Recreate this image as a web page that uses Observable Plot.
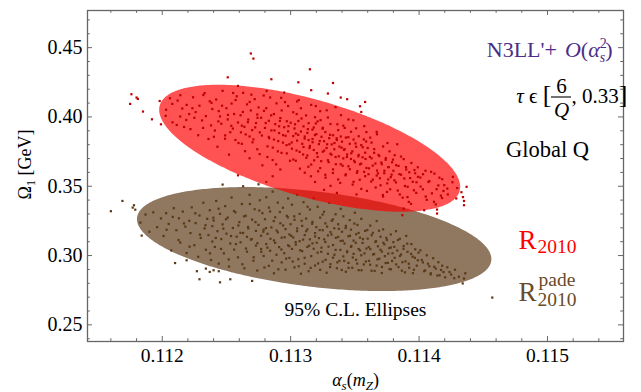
<!DOCTYPE html>
<html><head><meta charset="utf-8">
<script src="https://cdn.jsdelivr.net/npm/d3@7"></script>
<script src="https://cdn.jsdelivr.net/npm/@observablehq/plot@0.6"></script>
<style>body{margin:0;background:#fff}svg{display:block}</style>
</head><body><div id="chart"></div><script>
// ---- tick values ----
const xMajorTicks = [0.112, 0.113, 0.114, 0.115];
const xMinorTicks = [0.1116,0.1118,0.1122,0.1124,0.1126,0.1128,0.1132,0.1134,0.1136,0.1138,0.1142,0.1144,0.1146,0.1148,0.1152,0.1154];
const yMajorTicks = [0.25, 0.30, 0.35, 0.40, 0.45];
const yMinorTicks = [0.24,0.26,0.27,0.28,0.29,0.31,0.32,0.33,0.34,0.36,0.37,0.38,0.39,0.41,0.42,0.43,0.44,0.46,0.47];

// ---- 95% C.L. ellipses (brown = R2010 pade, red = R2010) ----
const ellipseNames = ["R2010 pade", "R2010"];
const ellipseAlpha = [0.113187, 0.113152];
const ellipseOmega = [0.31154, 0.37706];
const ellipseSemiAlpha = [0.00138, 0.001172];
const ellipseSemiOmega = [0.03752, 0.0458];
const ellipseCorr = [-0.3846, -0.607];

// ---- scatter points (alpha_s, Omega_1) ----
const redPoints = [
[0.11176,0.4164],[0.11175,0.4094],[0.11180,0.4140],[0.11181,0.4130],[0.11185,0.4039],[0.11192,0.3983],[0.11199,0.3947],[0.11198,0.4115],
[0.11269,0.4458],[0.11271,0.4421],[0.11251,0.4286],[0.11259,0.4224],[0.11285,0.4272],[0.11306,0.4250],[0.11315,0.4344],[0.11316,0.4193],
[0.11333,0.4245],[0.11329,0.4169],[0.11339,0.4140],[0.11344,0.4128],[0.11358,0.4108],[0.11354,0.4077],[0.11355,0.4036],[0.11259,0.3579],
[0.11435,0.3394],[0.11435,0.3363],[0.11414,0.3332],[0.11414,0.3303],[0.11404,0.3327],[0.11387,0.3291],[0.11388,0.3339],
[0.11203,0.4052],[0.11208,0.3961],[0.11212,0.4118],[0.11214,0.4003],[0.11217,0.3928],[0.11219,0.4087],[0.11206,0.4135],[0.11221,0.4021],
[0.11222,0.3912],[0.11224,0.4142],[0.11226,0.4035],[0.11228,0.3868],[0.11229,0.4081],[0.11231,0.3975],[0.11233,0.4172],[0.11234,0.4006],[0.11236,0.3841],[0.11237,0.4113],[0.11238,0.3939],[0.11239,0.4057],[0.11225,0.3994],[0.11232,0.4158],
[0.11241,0.3902],[0.11242,0.4126],[0.11243,0.3785],[0.11245,0.4004],[0.11246,0.3951],[0.11247,0.4188],[0.11249,0.3867],[0.11250,0.4063],[0.11251,0.3982],[0.11252,0.3728],[0.11254,0.4097],[0.11255,0.3916],[0.11256,0.4021],[0.11257,0.3834],[0.11258,0.4149],[0.11259,0.3960],[0.11244,0.4042],[0.11253,0.3890],
[0.11261,0.4012],[0.11262,0.3806],[0.11263,0.4174],[0.11264,0.3929],[0.11265,0.3874],[0.11266,0.4091],[0.11267,0.3981],[0.11268,0.3702],[0.11269,0.4047],[0.11270,0.3905],[0.11271,0.3838],[0.11272,0.4128],[0.11273,0.3956],[0.11274,0.3767],[0.11275,0.4069],[0.11276,0.3889],[0.11277,0.3994],[0.11278,0.3651],[0.11279,0.4155],[0.11262,0.3937],[0.11268,0.3859],[0.11274,0.4018],
[0.11280,0.3921],[0.11281,0.4063],[0.11282,0.3788],[0.11283,0.3972],[0.11283,0.3856],[0.11284,0.4141],[0.11285,0.3903],[0.11286,0.3689],[0.11287,0.4021],[0.11287,0.3837],[0.11288,0.3948],[0.11289,0.4098],[0.11290,0.3752],[0.11291,0.3884],[0.11292,0.3992],[0.11292,0.3621],[0.11293,0.4047],[0.11294,0.3815],[0.11295,0.3926],[0.11295,0.4176],[0.11296,0.3864],[0.11297,0.3737],[0.11297,0.3969],[0.11298,0.4079],[0.11299,0.3803],[0.11286,0.3572],[0.11291,0.3933],[0.11298,0.3896],
[0.11300,0.3958],[0.11301,0.3771],[0.11302,0.4034],[0.11302,0.3862],[0.11303,0.3917],[0.11304,0.3684],[0.11305,0.4112],[0.11305,0.3829],[0.11306,0.3971],[0.11307,0.3748],[0.11308,0.3895],[0.11308,0.4063],[0.11309,0.3806],[0.11310,0.3932],[0.11311,0.3598],[0.11311,0.3859],[0.11312,0.4011],[0.11313,0.3722],[0.11313,0.3885],[0.11314,0.3955],[0.11315,0.3791],[0.11316,0.4087],[0.11316,0.3657],[0.11317,0.3841],[0.11318,0.3924],[0.11318,0.3762],[0.11319,0.3998],[0.11319,0.3531],[0.11304,0.3880],[0.11310,0.3783],[0.11314,0.3833],[0.11317,0.3909],
[0.11320,0.3876],[0.11321,0.3712],[0.11321,0.3968],[0.11322,0.3804],[0.11323,0.4042],[0.11323,0.3631],[0.11324,0.3857],[0.11325,0.3749],[0.11325,0.3922],[0.11326,0.3825],[0.11327,0.3583],[0.11327,0.3891],[0.11328,0.3776],[0.11329,0.3996],[0.11329,0.3688],[0.11330,0.3847],[0.11331,0.3735],[0.11331,0.3949],[0.11332,0.3802],[0.11333,0.3622],[0.11333,0.3868],[0.11334,0.3767],[0.11335,0.4071],[0.11335,0.3711],[0.11336,0.3834],[0.11337,0.3549],[0.11337,0.3905],[0.11338,0.3786],[0.11339,0.3659],[0.11339,0.3859],[0.11326,0.3474],[0.11336,0.3452],
[0.11340,0.3822],[0.11341,0.3701],[0.11341,0.3937],[0.11342,0.3768],[0.11343,0.3586],[0.11343,0.3851],[0.11344,0.3729],[0.11345,0.3982],[0.11345,0.3644],[0.11346,0.3806],[0.11347,0.3697],[0.11347,0.3893],[0.11348,0.3752],[0.11349,0.3532],[0.11349,0.3837],[0.11350,0.3674],[0.11351,0.3785],[0.11351,0.3918],[0.11352,0.3609],[0.11353,0.3726],[0.11353,0.3861],[0.11354,0.3658],[0.11355,0.3797],[0.11355,0.3481],[0.11356,0.3709],[0.11357,0.3838],[0.11358,0.3573],[0.11358,0.3742],[0.11359,0.3632],[0.11359,0.3891],
[0.11360,0.3776],[0.11361,0.3629],[0.11362,0.3851],[0.11363,0.3702],[0.11364,0.3548],[0.11365,0.3741],[0.11366,0.3664],[0.11367,0.3892],[0.11368,0.3593],[0.11369,0.3718],[0.11370,0.3507],[0.11371,0.3659],[0.11372,0.3787],[0.11373,0.3612],[0.11374,0.3691],[0.11375,0.3459],[0.11376,0.3638],[0.11377,0.3752],[0.11378,0.3566],[0.11379,0.3673],[0.11363,0.3815],[0.11367,0.3577],[0.11372,0.3426],[0.11376,0.3549],
[0.11380,0.3612],[0.11381,0.3724],[0.11382,0.3528],[0.11384,0.3647],[0.11385,0.3441],[0.11386,0.3583],[0.11388,0.3696],[0.11389,0.3502],[0.11390,0.3621],[0.11392,0.3387],[0.11393,0.3559],[0.11394,0.3668],[0.11396,0.3471],[0.11397,0.3594],[0.11398,0.3529],[0.11383,0.3803],[0.11391,0.3422],[0.11399,0.3637],
[0.11401,0.3563],[0.11403,0.3478],[0.11405,0.3612],[0.11406,0.3402],[0.11408,0.3537],[0.11410,0.3449],[0.11412,0.3591],[0.11413,0.3369],[0.11415,0.3506],[0.11417,0.3432],[0.11418,0.3551],[0.11419,0.3466],
[0.11422,0.3483],[0.11426,0.3529],[0.11429,0.3412],[0.11433,0.3457],[0.11437,0.3496],
[0.112235,0.4063],[0.112318,0.3921],[0.112384,0.4102],[0.112402,0.3857],
[0.112437,0.3968],[0.112466,0.4081],[0.112489,0.3843],[0.112512,0.4015],[0.112538,0.3936],[0.112571,0.4122],[0.112594,0.3812],
[0.112613,0.3889],[0.112628,0.4036],[0.112645,0.3753],[0.112667,0.3962],[0.112681,0.4108],[0.112703,0.3817],[0.112724,0.3925],[0.112742,0.3994],[0.112759,0.3732],[0.112776,0.3866],[0.112792,0.4044],
[0.112806,0.3956],[0.112819,0.3711],[0.112833,0.3847],[0.112848,0.4012],[0.112861,0.3779],[0.112874,0.3903],[0.112887,0.3658],[0.112903,0.3826],[0.112916,0.3971],[0.112929,0.3741],[0.112941,0.3869],[0.112956,0.4107],[0.112968,0.3797],[0.112983,0.3934],[0.112995,0.3684],
[0.113008,0.3816],[0.113021,0.3693],[0.113034,0.3947],[0.113046,0.3758],[0.113059,0.3871],[0.113072,0.3627],[0.113085,0.3989],[0.113097,0.3729],[0.113109,0.3844],[0.113122,0.3705],[0.113134,0.3912],[0.113147,0.3776],[0.113158,0.3572],[0.113171,0.3818],[0.113183,0.3687],[0.113196,0.3953],[0.113047,0.4021],[0.113138,0.3641],[0.113189,0.3869],
[0.113205,0.3739],[0.113214,0.3608],[0.113227,0.3826],[0.113238,0.3681],[0.113249,0.3915],[0.113261,0.3757],[0.113272,0.3562],[0.113284,0.3803],[0.113296,0.3674],[0.113307,0.3871],[0.113318,0.3728],[0.113329,0.3596],[0.113341,0.3812],[0.113352,0.3659],[0.113364,0.3947],[0.113375,0.3716],[0.113386,0.3524],[0.113397,0.3778],[0.113233,0.3977],[0.113311,0.3503],[0.113358,0.3846],
[0.113405,0.3648],[0.113416,0.3762],[0.113427,0.3579],[0.113438,0.3711],[0.113449,0.3854],[0.113461,0.3623],[0.113472,0.3738],[0.113483,0.3512],[0.113494,0.3684],[0.113505,0.3809],[0.113516,0.3597],[0.113527,0.3716],[0.113538,0.3547],[0.113549,0.3663],[0.113561,0.3782],[0.113572,0.3604],[0.113583,0.3697],[0.113594,0.3466],[0.113421,0.3921],[0.113513,0.3441],[0.113588,0.3823],
[0.113606,0.3587],[0.113617,0.3712],[0.113628,0.3534],[0.113639,0.3649],[0.113651,0.3768],[0.113662,0.3491],[0.113673,0.3613],[0.113684,0.3726],[0.113695,0.3558],[0.113706,0.3671],[0.113718,0.3437],[0.113729,0.3594],[0.113741,0.3703],[0.113752,0.3521],[0.113763,0.3639],[0.113775,0.3478],[0.113786,0.3584],[0.113797,0.3692],
[0.113808,0.3543],[0.113821,0.3652],[0.113834,0.3469],[0.113847,0.3587],[0.113859,0.3714],[0.113872,0.3418],[0.113885,0.3556],[0.113898,0.3638],[0.113911,0.3496],[0.113924,0.3601],[0.113937,0.3373],[0.113951,0.3532],[0.113964,0.3617],[0.113978,0.3452],[0.113991,0.3568],
[0.114012,0.3498],[0.114031,0.3587],[0.114052,0.3426],[0.114073,0.3531],[0.114094,0.3604],[0.114116,0.3388],[0.114137,0.3479],[0.114158,0.3562],[0.114179,0.3415],[0.114196,0.3508],
[0.114224,0.3441],[0.114263,0.3568],[0.114297,0.3487],[0.114342,0.3422],
[0.112027,0.4008],[0.112078,0.4094],[0.112113,0.3942],[0.112156,0.4061],[0.112187,0.3978],[0.112141,0.4157],
[0.112552,0.4173],[0.112694,0.4161],[0.112813,0.4187],[0.112926,0.4138],[0.113063,0.4122],[0.113196,0.4079],[0.113281,0.4048],[0.113392,0.4013],[0.113488,0.3976],[0.113573,0.3934],[0.113672,0.3875],[0.113754,0.3812]
];
const brownPoints = [
[0.11160,0.3320],[0.11169,0.3394],[0.11178,0.3363],[0.11177,0.3346],[0.11179,0.3331],[0.11184,0.3144],[0.11210,0.2946],[0.11219,0.2966],[0.11227,0.2887],[0.11229,0.2829],[0.11234,0.2906],[0.11237,0.2882],[0.11240,0.2894],[0.11244,0.2887],[0.11245,0.2807],[0.11253,0.2829],[0.11270,0.2817],[0.11247,0.3512],[0.11263,0.3500],[0.11281,0.3531],[0.11275,0.3514],[0.11457,0.2697],[0.11435,0.2834],[0.11434,0.2799],
[0.11183,0.3238],[0.11187,0.3296],[0.11190,0.3172],[0.11193,0.3312],[0.11196,0.3205],[0.11199,0.3268],
[0.11201,0.3141],[0.11203,0.3306],[0.11205,0.3228],[0.11207,0.3037],[0.11209,0.3342],[0.11211,0.3183],[0.11213,0.3269],[0.11214,0.3094],[0.11216,0.3317],[0.11218,0.3209],[0.11219,0.3018],[0.11221,0.3251],
[0.11222,0.3162],[0.11223,0.3348],[0.11225,0.3075],[0.11226,0.3234],[0.11228,0.2991],[0.11229,0.3289],[0.11230,0.3127],[0.11232,0.3381],[0.11233,0.3196],[0.11234,0.3042],[0.11235,0.3265],[0.11236,0.3148],[0.11237,0.3327],[0.11238,0.2968],[0.11239,0.3212],[0.11239,0.3101],
[0.11240,0.3253],[0.11241,0.3062],[0.11242,0.3394],[0.11243,0.3176],[0.11244,0.2942],[0.11245,0.3301],[0.11246,0.3119],[0.11247,0.3225],[0.11248,0.3016],[0.11249,0.3357],[0.11250,0.3158],[0.11251,0.3274],[0.11252,0.2921],[0.11253,0.3087],[0.11254,0.3419],[0.11255,0.3199],[0.11256,0.3043],[0.11257,0.3312],[0.11258,0.3136],[0.11259,0.2987],
[0.11260,0.3241],[0.11261,0.3096],[0.11262,0.3372],[0.11263,0.3163],[0.11264,0.2908],[0.11265,0.3287],[0.11266,0.3028],[0.11267,0.3196],[0.11268,0.3438],[0.11269,0.3115],[0.11270,0.3259],[0.11271,0.2963],[0.11272,0.3334],[0.11273,0.3072],[0.11273,0.3178],[0.11274,0.2892],[0.11275,0.3221],[0.11276,0.3399],[0.11277,0.3047],[0.11277,0.3143],[0.11278,0.3306],[0.11279,0.2997],[0.11279,0.3187],[0.11266,0.3135],
[0.11280,0.3262],[0.11281,0.3083],[0.11281,0.3421],[0.11282,0.3157],[0.11283,0.2926],[0.11284,0.3318],[0.11284,0.3035],[0.11285,0.3203],[0.11286,0.3461],[0.11287,0.3109],[0.11287,0.2872],[0.11288,0.3276],[0.11289,0.3006],[0.11290,0.3168],[0.11290,0.3382],[0.11291,0.3061],[0.11292,0.3233],[0.11293,0.2951],[0.11293,0.3129],[0.11294,0.3345],[0.11295,0.3017],[0.11296,0.3191],[0.11296,0.2898],[0.11297,0.3287],[0.11298,0.3074],[0.11298,0.3412],[0.11299,0.3152],[0.11299,0.2983],
[0.11300,0.3226],[0.11301,0.3048],[0.11301,0.3367],[0.11302,0.3131],[0.11303,0.2915],[0.11303,0.3258],[0.11304,0.3079],[0.11305,0.3439],[0.11305,0.3176],[0.11306,0.2974],[0.11307,0.3301],[0.11307,0.3104],[0.11308,0.2869],[0.11309,0.3214],[0.11309,0.3032],[0.11310,0.3385],[0.11311,0.3148],[0.11311,0.2941],[0.11312,0.3267],[0.11313,0.3062],[0.11313,0.3189],[0.11314,0.2887],[0.11315,0.3332],[0.11315,0.3117],[0.11316,0.2996],[0.11317,0.3243],[0.11317,0.3088],[0.11318,0.3414],[0.11319,0.3162],[0.11319,0.2928],
[0.11320,0.3205],[0.11321,0.3021],[0.11321,0.3352],[0.11322,0.3126],[0.11323,0.2897],[0.11323,0.3274],[0.11324,0.3057],[0.11325,0.3183],[0.11325,0.2956],[0.11326,0.3316],[0.11327,0.3098],[0.11327,0.3232],[0.11328,0.2876],[0.11329,0.3145],[0.11329,0.3013],[0.11330,0.3381],[0.11331,0.3169],[0.11331,0.2938],[0.11332,0.3251],[0.11333,0.3076],[0.11333,0.2985],[0.11334,0.3197],[0.11335,0.3298],[0.11335,0.3041],[0.11336,0.2909],[0.11337,0.3134],[0.11337,0.3226],[0.11338,0.2962],[0.11339,0.3105],[0.11339,0.3337],
[0.11340,0.3172],[0.11341,0.2994],[0.11341,0.3283],[0.11342,0.3087],[0.11343,0.2883],[0.11343,0.3214],[0.11344,0.3031],[0.11345,0.3139],[0.11345,0.2947],[0.11346,0.3256],[0.11347,0.3063],[0.11347,0.3187],[0.11348,0.2912],[0.11349,0.3108],[0.11349,0.3012],[0.11350,0.3309],[0.11351,0.3154],[0.11351,0.2969],[0.11352,0.3221],[0.11353,0.3047],[0.11353,0.2895],[0.11354,0.3129],[0.11355,0.3265],[0.11355,0.3002],[0.11356,0.3091],[0.11357,0.2936],[0.11358,0.3178],[0.11359,0.3051],
[0.11360,0.3122],[0.11361,0.2962],[0.11362,0.3216],[0.11362,0.3047],[0.11363,0.2891],[0.11364,0.3164],[0.11365,0.3011],[0.11366,0.3098],[0.11367,0.2928],[0.11367,0.3249],[0.11368,0.3067],[0.11369,0.2977],[0.11370,0.3136],[0.11371,0.3029],[0.11371,0.2874],[0.11372,0.3189],[0.11373,0.3081],[0.11374,0.2946],[0.11375,0.3112],[0.11376,0.3014],[0.11377,0.2903],[0.11378,0.3152],[0.11378,0.3058],[0.11379,0.2961],
[0.11380,0.3097],[0.11381,0.2984],[0.11382,0.3176],[0.11383,0.3036],[0.11384,0.2917],[0.11385,0.3121],[0.11386,0.3008],[0.11387,0.2952],[0.11388,0.3069],[0.11389,0.2879],[0.11390,0.3142],[0.11391,0.3027],[0.11392,0.2941],[0.11394,0.3083],[0.11395,0.2992],[0.11396,0.2898],[0.11397,0.3045],[0.11399,0.2966],
[0.11401,0.3038],[0.11403,0.2951],[0.11404,0.2887],[0.11406,0.3002],[0.11408,0.2923],[0.11409,0.2864],[0.11411,0.2981],[0.11413,0.2906],[0.11415,0.2952],[0.11416,0.2858],[0.11418,0.2927],[0.11419,0.2881],
[0.11422,0.2915],[0.11425,0.2863],[0.11428,0.2898],[0.11431,0.2847],[0.11436,0.2872],
[0.112034,0.3186],[0.112082,0.3279],[0.112127,0.3112],[0.112169,0.3232],[0.112213,0.3064],[0.112258,0.3305],[0.112294,0.3151],[0.112337,0.3219],[0.112372,0.3016],[0.112398,0.3273],
[0.112417,0.3127],[0.112439,0.3338],[0.112458,0.3048],[0.112476,0.3194],[0.112497,0.3262],[0.112518,0.2972],[0.112536,0.3141],[0.112559,0.3321],[0.112574,0.3083],[0.112593,0.3217],
[0.112609,0.3164],[0.112624,0.2937],[0.112637,0.3283],[0.112652,0.3051],[0.112668,0.3206],[0.112683,0.3372],[0.112697,0.3119],[0.112712,0.2988],[0.112726,0.3241],[0.112741,0.3089],[0.112756,0.3325],[0.112771,0.3027],[0.112787,0.3172],[0.112796,0.2914],
[0.112808,0.3198],[0.112819,0.3057],[0.112831,0.3346],[0.112843,0.3121],[0.112856,0.2963],[0.112868,0.3249],[0.112879,0.3092],[0.112891,0.3181],[0.112904,0.2901],[0.112916,0.3314],[0.112928,0.3044],[0.112941,0.3217],[0.112953,0.3132],[0.112965,0.2978],[0.112978,0.3276],[0.112989,0.3068],
[0.113004,0.3142],[0.113016,0.2957],[0.113028,0.3283],[0.113039,0.3097],[0.113051,0.3196],[0.113063,0.2923],[0.113074,0.3038],[0.113086,0.3251],[0.113097,0.3115],[0.113109,0.2984],[0.113121,0.3176],[0.113132,0.3352],[0.113144,0.3071],[0.113156,0.2911],[0.113168,0.3229],[0.113179,0.3049],[0.113191,0.3138],
[0.113203,0.3093],[0.113214,0.2943],[0.113226,0.3184],[0.113238,0.3027],[0.113249,0.3296],[0.113261,0.3117],[0.113272,0.2969],[0.113284,0.3209],[0.113295,0.3064],[0.113307,0.2917],[0.113318,0.3152],[0.113329,0.3261],[0.113341,0.3006],[0.113352,0.3128],[0.113364,0.2951],[0.113375,0.3193],[0.113387,0.3041],[0.113398,0.2896],
[0.113406,0.3107],[0.113417,0.2962],[0.113428,0.3198],[0.113439,0.3024],[0.113451,0.2911],[0.113462,0.3143],[0.113473,0.3069],[0.113484,0.2986],[0.113496,0.3231],[0.113507,0.3092],[0.113518,0.2942],[0.113529,0.3163],[0.113541,0.3037],[0.113552,0.2894],[0.113563,0.3119],[0.113575,0.3016],[0.113586,0.2957],[0.113597,0.3184],
[0.113608,0.3061],[0.113619,0.2934],[0.113631,0.3147],[0.113642,0.3008],[0.113654,0.2889],[0.113665,0.3104],[0.113676,0.2973],[0.113688,0.3179],[0.113699,0.3042],[0.113711,0.2918],[0.113722,0.3092],[0.113734,0.2996],[0.113745,0.3128],[0.113757,0.2947],[0.113768,0.3054],[0.113781,0.2901],[0.113793,0.3017],
[0.113807,0.3063],[0.113822,0.2936],[0.113836,0.3112],[0.113851,0.2997],[0.113866,0.2891],[0.113879,0.3049],[0.113894,0.2958],[0.113908,0.3086],[0.113923,0.2912],[0.113938,0.3012],[0.113952,0.2873],[0.113967,0.2984],[0.113982,0.2927],[0.113996,0.3021],
[0.114021,0.2968],[0.114047,0.2893],[0.114069,0.2941],[0.114092,0.2872],[0.114118,0.2919],[0.114143,0.2856],[0.114171,0.2896],[0.114203,0.2843],[0.114237,0.2881],[0.114274,0.2837]
];

// ---- layout ----
const W = 641, H = 392, mL = 87, mR = 18, mT = 10, mB = 51;
const fw = W - mL - mR, fh = H - mT - mB;
const SERIF = "'Liberation Serif', 'Times New Roman', serif";
const tickColor = "#666";

function outline(i) {
  const pts = [];
  const r = ellipseCorr[i], k = Math.sqrt(1 - r * r);
  for (let j = 0; j <= 200; j++) {
    const t = Math.PI * j / 200, c = Math.cos(t), s = Math.sin(t);
    const yc = ellipseOmega[i] + r * ellipseSemiOmega[i] * c;
    const h = ellipseSemiOmega[i] * k * s;
    pts.push({alpha: ellipseAlpha[i] + ellipseSemiAlpha[i] * c, lo: yc - h, hi: yc + h});
  }
  return pts;
}

function ann(text, x, y, opts = {}) {
  return Plot.text([text], {text: d => d, frameAnchor: "top-left", dx: x - mL, dy: y - mT,
    lineAnchor: "bottom", fontFamily: SERIF, fontSize: 20, ...opts});
}

const svg = Plot.plot({
  width: W, height: H, marginLeft: mL, marginRight: mR, marginTop: mT, marginBottom: mB,
  x: {domain: [0.111418, 0.115592], axis: null},
  y: {domain: [0.238, 0.4768], axis: null},
  style: {fontFamily: SERIF, background: "#fff"},
  marks: [
    Plot.areaY(outline(0), {x: "alpha", y1: "lo", y2: "hi", fill: "#8f7760"}),
    Plot.dot(brownPoints, {x: d => d[0], y: d => d[1], r: 1.25, symbol: "square", fill: "#5a3a16"}),
    Plot.areaY(outline(1), {x: "alpha", y1: "lo", y2: "hi", fill: "#ff0000", fillOpacity: 0.68}),
    Plot.dot(redPoints, {x: d => d[0], y: d => d[1], r: 1.25, symbol: "square", fill: "#c00000"}),
    // ticks (inward, on all sides)
    Plot.ruleX(xMajorTicks, {x: d => d, insetTop: fh - 5, stroke: tickColor}),
    Plot.ruleX(xMajorTicks, {x: d => d, insetBottom: fh - 5, stroke: tickColor}),
    Plot.ruleX(xMinorTicks, {x: d => d, insetTop: fh - 2.8, stroke: tickColor}),
    Plot.ruleX(xMinorTicks, {x: d => d, insetBottom: fh - 2.8, stroke: tickColor}),
    Plot.ruleY(yMajorTicks, {y: d => d, insetRight: fw - 5, stroke: tickColor}),
    Plot.ruleY(yMajorTicks, {y: d => d, insetLeft: fw - 5, stroke: tickColor}),
    Plot.ruleY(yMinorTicks, {y: d => d, insetRight: fw - 2.8, stroke: tickColor}),
    Plot.ruleY(yMinorTicks, {y: d => d, insetLeft: fw - 2.8, stroke: tickColor}),
    Plot.frame({stroke: tickColor, strokeWidth: 1.3}),
    // tick labels
    Plot.text(xMajorTicks, {x: d => d, frameAnchor: "bottom", dy: 20, lineAnchor: "bottom",
      text: d => d3.format(".3f")(d), fontFamily: SERIF, fontSize: 19.5, fill: "#000"}),
    Plot.text(yMajorTicks, {y: d => d, frameAnchor: "left", dx: -5, textAnchor: "end",
      text: d => d3.format(".2f")(d), fontFamily: SERIF, fontSize: 20, fill: "#000"}),
    // axis labels
    Plot.text(["Ω1 [GeV]"], {text: d => d, frameAnchor: "top-left", dx: 30 - mL, dy: 164 - mT, rotate: -90,
      textAnchor: "middle", lineAnchor: "bottom", fontFamily: SERIF, fontSize: 18}),
    Plot.text(["αs(mZ)"], {text: d => d, frameAnchor: "bottom", dy: 44, lineAnchor: "bottom",
      fontFamily: SERIF, fontSize: 18}),
    // annotations
    ann("N3LL'+ O(αs2)", 612, 56, {textAnchor: "end", fill: "#4b2d87", fontSize: 22}),
    ann("τ ϵ [", 551, 102, {textAnchor: "end", fontSize: 21}),
    ann("6", 561, 92, {textAnchor: "middle", fontSize: 21}),
    ann("Q", 561, 116, {textAnchor: "middle", fontSize: 21, fontStyle: "italic"}),
    ann(", 0.33]", 571, 102, {textAnchor: "start", fontSize: 21}),
    ann("Global Q", 547, 156, {textAnchor: "middle", fontSize: 22.5}),
    ann("95% C.L. Ellipses", 355, 315, {textAnchor: "middle", fontSize: 19.5}),
    ann("R", 518, 248, {fill: "#ff0000", fontSize: 27}),
    ann("2010", 537, 252.7, {fill: "#ff0000", fontSize: 19.5}),
    ann("R", 518, 300, {fill: "#6a4a28", fontSize: 27}),
    ann("pade", 538, 285, {fill: "#6a4a28", fontSize: 19.5}),
    ann("2010", 537, 305, {fill: "#6a4a28", fontSize: 19.5})
  ]
});

function rich(content, parts) {
  d3.select(svg).selectAll("text").filter(function () { return this.textContent === content; }).each(function () {
    const t = d3.select(this); t.text(null);
    for (const [s, o] of parts) { const sp = t.append("tspan").text(s); for (const k in (o || {})) sp.attr(k, o[k]); }
  });
}
rich("Ω1 [GeV]", [["Ω"], ["1", {dy: 4, "font-size": 12}], [" [GeV]", {dy: -4}]]);
rich("αs(mZ)", [["α", {"font-style": "italic"}], ["s", {"font-style": "italic", "font-size": 13, dy: 4}],
  ["(", {dy: -4}], ["m", {"font-style": "italic"}], ["Z", {"font-style": "italic", "font-size": 13, dy: 4}], [")", {dy: -4}]]);
rich("N3LL'+ O(αs2)", [["N3LL'+"], ["O", {"font-style": "italic", dx: 8}], ["("], ["α", {"font-style": "italic"}],
  ["2", {"font-size": 14, dy: -9}], ["s", {"font-style": "italic", "font-size": 14, dx: -7, dy: 14}], [")", {dy: -5}]]);
rich("τ ϵ [", [["τ", {"font-style": "italic"}], [" ϵ "], ["[", {"font-size": 26}]]);
rich(", 0.33]", [[", 0.33"], ["]", {"font-size": 26}]]);

// fraction bar for 6/Q
d3.select(svg).append("line").attr("x1", 551).attr("x2", 571).attr("y1", 97).attr("y2", 97)
  .attr("stroke", "#000").attr("stroke-width", 1.1);

document.getElementById("chart").appendChild(svg);
</script></body></html>
